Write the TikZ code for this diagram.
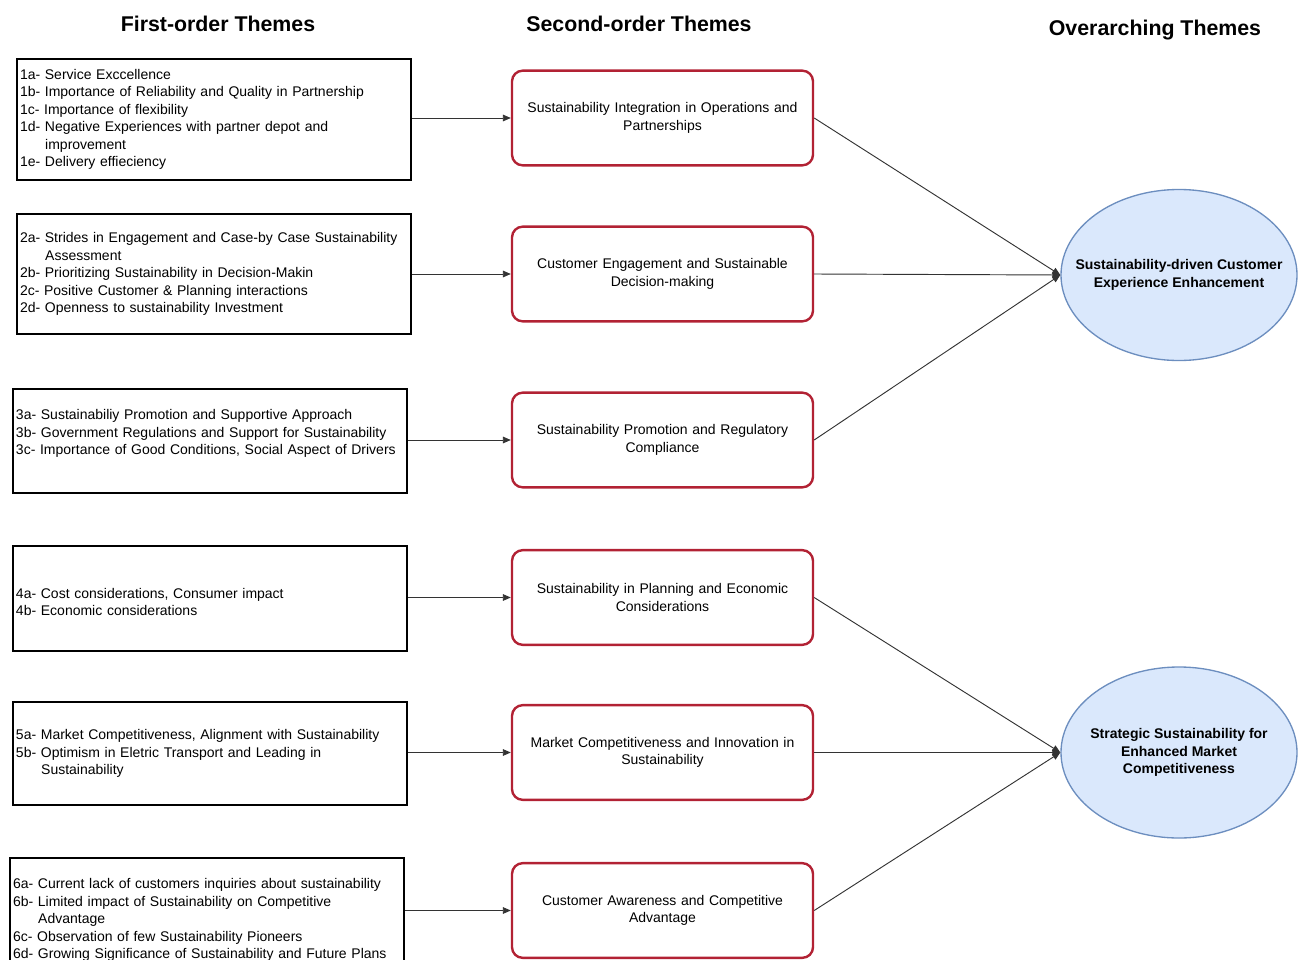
\documentclass[tikz,border=0pt]{standalone}
\usepackage{fontspec}
\setmainfont{Liberation Sans}
\usetikzlibrary{arrows.meta,shapes.geometric}
\definecolor{themered}{RGB}{178,34,52}
\definecolor{ovalfill}{RGB}{218,232,252}
\definecolor{ovalline}{RGB}{108,142,191}
\newcommand{\contind}{\hspace*{1.8em}}

\begin{document}
\begin{tikzpicture}[x=0.75pt, y=-0.75pt,
  every node/.style={font=\fontsize{10.5}{13.1}\selectfont},
  heading/.style={font=\fontsize{16}{19}\selectfont\bfseries},
  firstbox/.style={draw=black, line width=1.4pt, minimum width=295.5pt, text width=291pt, align=left, inner sep=2pt},
  secondbox/.style={draw=themered, line width=1.8pt, rounded corners=8pt, minimum width=225.75pt, minimum height=71pt, text width=215pt, align=center},
  theme/.style={ellipse, draw=ovalline, line width=1pt, fill=ovalfill, minimum width=177pt, minimum height=128.25pt, inner sep=0pt},
  themetext/.style={align=center, inner sep=0pt, font=\fontsize{10.5}{13.1}\selectfont\bfseries},
  arr/.style={-{Triangle[length=6pt,width=5pt]}, line width=0.7pt, black!80}]
  \useasboundingbox (0,0) rectangle (1303,960);
  % column headings
  \node[heading] (h1) at (218,24) {First-order Themes};
  \node[heading] (h2) at (639,24) {Second-order Themes};
  \node[heading] (h3) at (1155,30) {Overarching Themes};
  % first-order themes
  \node[firstbox, minimum height=90.75pt] (f1) at (214,119.5) {1a- Service Exccellence\\
    1b- Importance of Reliability and Quality in Partnership\\
    1c- Importance of flexibility\\
    1d- Negative Experiences with partner depot and\\
    \contind improvement\\
    1e- Delivery effieciency};
  \node[firstbox, minimum height=90pt] (f2) at (214,274) {2a- Strides in Engagement and Case-by Case Sustainability\\
    \contind Assessment\\
    2b- Prioritizing Sustainability in Decision-Makin\\
    2c- Positive Customer \& Planning interactions\\
    2d- Openness to sustainability Investment};
  \node[firstbox, minimum height=78pt] (f3) at (210,441) {3a- Sustainabiliy Promotion and Supportive Approach\\
    3b- Government Regulations and Support for Sustainability\\
    3c- Importance of Good Conditions, Social Aspect of Drivers\\
    \mbox{}};
  \node[firstbox, minimum height=78.75pt] (f4) at (210,598.5) {\mbox{}\\
    4a- Cost considerations, Consumer impact\\
    4b- Economic considerations};
  \node[firstbox, minimum height=77.25pt] (f5) at (210,753.5) {5a- Market Competitiveness, Alignment with Sustainability\\
    5b- Optimism in Eletric Transport and Leading in\\
    \contind Sustainability};
  \node[firstbox, minimum height=93pt] (f6) at (207,920) {6a- Current lack of customers inquiries about sustainability\\
    6b- Limited impact of Sustainability on Competitive\\
    \contind Advantage\\
    6c- Observation of few Sustainability Pioneers\\
    6d- Growing Significance of Sustainability and Future Plans};
  % second-order themes
  \node[secondbox] (s1) at (662.5,118) {Sustainability Integration in Operations and\\Partnerships};
  \node[secondbox] (s2) at (662.5,274) {Customer Engagement and Sustainable\\Decision-making};
  \node[secondbox] (s3) at (662.5,440) {Sustainability Promotion and Regulatory\\Compliance};
  \node[secondbox] (s4) at (662.5,597.5) {Sustainability in Planning and Economic\\Considerations};
  \node[secondbox] (s5) at (662.5,752.5) {Market Competitiveness and Innovation in\\Sustainability};
  \node[secondbox] (s6) at (662.5,910.5) {Customer Awareness and Competitive\\Advantage};
  % overarching themes
  \node[theme] (e1) at (1179,275) {};
  \node[themetext] (e1t) at (e1) {Sustainability-driven Customer\\Experience Enhancement};
  \node[theme] (e2) at (1179,752.5) {};
  \node[themetext] (e2t) at (e2) {Strategic Sustainability for\\Enhanced Market\\Competitiveness};
  % connectors
  \foreach \i in {1,...,6}
    \draw[arr] (f\i.east |- s\i.west) -- (s\i.west);
  \foreach \i in {1,2,3}
    \draw[arr] (s\i.east) -- (e1.west);
  \foreach \i in {4,5,6}
    \draw[arr] (s\i.east) -- (e2.west);
\end{tikzpicture}
\end{document}
